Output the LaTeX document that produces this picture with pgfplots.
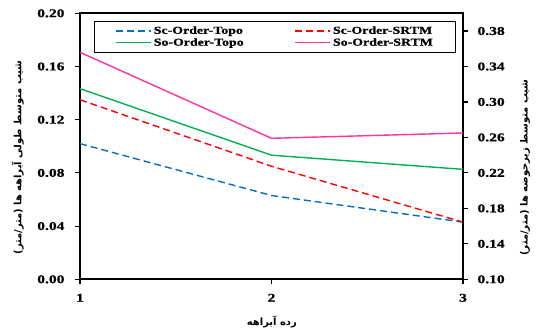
\documentclass[border=0pt]{standalone}
\usepackage{fontspec}
\setmainfont{Liberation Serif}[FakeStretch=1.3, BoldFeatures={FakeBold=0.8}]
\newfontfamily\arabicfont[Script=Arabic]{DejaVu Sans}
\TeXXeTstate=1
\usepackage{pgfplots}
\pgfplotsset{compat=1.18}
\definecolor{cblue}{RGB}{0,112,192}
\definecolor{cred}{RGB}{255,0,0}
\definecolor{cgreen}{RGB}{0,176,80}
\definecolor{cpink}{RGB}{255,51,153}
\pgfplotsset{
  common/.style={
    scale only axis, width=383bp, height=266bp,
    xmin=1, xmax=3,
    tick align=outside,
    major tick length=5bp,
    axis line style={line width=1.6bp},
    every tick/.style={black, line width=1.1bp},
    /pgf/number format/assume math mode=true,
    ticklabel style={font=\fontsize{12}{14}\selectfont\bfseries},
    yticklabel style={/pgf/number format/fixed, /pgf/number format/precision=2, /pgf/number format/fixed zerofill},
  }
}
\begin{document}
\begin{tikzpicture}
\begin{axis}[common,
  ymin=0, ymax=0.2,
  xtick={1,2,3}, xtick pos=bottom,
  xticklabel style={yshift=-6bp},
  ytick={0,0.04,0.08,0.12,0.16,0.20}, ytick pos=left,
  yticklabel style={xshift=-7bp},
  xlabel={\arabicfont\bfseries\fontsize{10}{12}\selectfont\beginR رده آبراهه\endR},
  xlabel style={at={(axis description cs:0.501,-0.16)}, anchor=center},
  ylabel={\arabicfont\bfseries\fontsize{10}{12}\selectfont\beginR شیب متوسط طولی آبراهه ها (متر/متر)\endR},
  ylabel style={at={(axis description cs:-0.162,0.458)}, anchor=center, rotate=0},
]
\coordinate (sw) at (rel axis cs:0,0);
\coordinate (ne) at (rel axis cs:1,1);
\addplot[cblue, line width=1.4bp, dash pattern=on 7bp off 4bp] coordinates {(1,0.102) (2,0.063) (3,0.043)};
\addplot[cred, line width=1.4bp, dash pattern=on 7bp off 4bp] coordinates {(1,0.135) (2,0.085) (3,0.043)};
\end{axis}
\begin{axis}[common,
  ymin=0.10, ymax=0.40,
  axis y line*=right, axis x line=none,
  ytick={0.10,0.14,0.18,0.22,0.26,0.30,0.34,0.38},
  yticklabel style={xshift=6bp},
  ylabel={\arabicfont\bfseries\fontsize{10}{12}\selectfont\beginR شیب متوسط زیرحوضه ها (متر/متر)\endR},
  ylabel style={at={(axis description cs:1.162,0.42)}, anchor=center, rotate=0},
  legend columns=2,
  legend cell align=left,
  legend style={at={(axis description cs:0.0366,0.971)}, anchor=north west, draw=black, line width=0.8bp,
    font=\fontsize{10.7}{13}\selectfont\bfseries, inner xsep=21bp, inner ysep=3bp, row sep=-1bp,
    /tikz/every even column/.append style={column sep=49bp}},
  legend image code/.code={\draw[#1] (0bp,0bp) -- (35bp,0bp);},
]
\addlegendimage{cblue, line width=1.4bp, dash pattern=on 7bp off 4bp}
\addlegendentry{Sc-Order-Topo}
\addlegendimage{cred, line width=1.4bp, dash pattern=on 7bp off 4bp}
\addlegendentry{Sc-Order-SRTM}
\addlegendimage{cgreen, line width=1.4bp}
\addlegendentry{So-Order-Topo}
\addlegendimage{cpink, line width=1.4bp}
\addlegendentry{So-Order-SRTM}
\addplot[cgreen, line width=1.4bp, forget plot] coordinates {(1,0.315) (2,0.240) (3,0.224)};
\addplot[cpink, line width=1.4bp, forget plot] coordinates {(1,0.356) (2,0.259) (3,0.265)};
\end{axis}
\pgfresetboundingbox
\path ([shift={(-80bp,-50.7bp)}]sw) rectangle ([shift={(73bp,13.3bp)}]ne);
\end{tikzpicture}
\end{document}
